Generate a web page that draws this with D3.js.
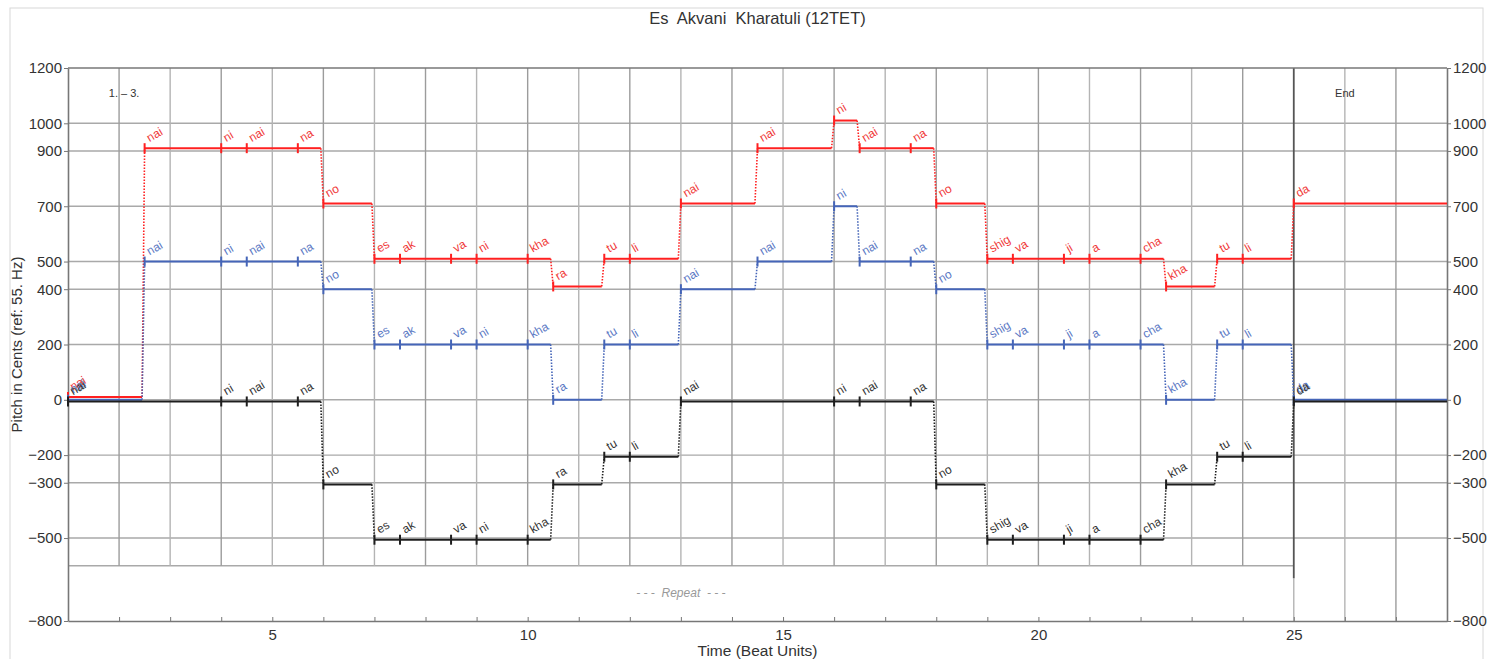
<!DOCTYPE html>
<html><head><meta charset="utf-8">
<script src="https://cdn.jsdelivr.net/npm/d3@7"></script>
<style>body{margin:0;background:#fff;} text{font-family:"Liberation Sans",Arial,Helvetica,sans-serif;}</style>
</head><body><svg id="c" width="1489" height="659"></svg>
<script>
// ---- data ----
const title = "Es  Akvani  Kharatuli (12TET)";
const starts = [1,2.5,4,4.5,5.5,6,7,7.5,8.5,9,10,10.5,11.5,12,13,14.5,16,16.5,17.5,18,19,19.5,20.5,21,22,22.5,23.5,24,25];
const endTime = 28;
const syllables = ["nai","nai","ni","nai","na","no","es","ak","va","ni","kha","ra","tu","li","nai","nai","ni","nai","na","no","shig","va","ji","a","cha","kha","tu","li","da"];
const redPitch   = [0,900,900,900,900,700,500,500,500,500,500,400,500,500,700,900,1000,900,900,700,500,500,500,500,500,400,500,500,700];
const bluePitch  = [0,500,500,500,500,400,200,200,200,200,200,0,200,200,400,500,700,500,500,400,200,200,200,200,200,0,200,200,0];
const blackPitch = [0,null,0,0,0,-300,-500,-500,-500,-500,-500,-300,-200,-200,0,null,0,0,0,-300,-500,-500,-500,-500,-500,-300,-200,-200,0];
const yTicks = [1200,1000,900,700,500,400,200,0,-200,-300,-500,-800];
const xTickLabels = [5,10,15,20,25];
const repeatEnd = 25;

// ---- layout / style ----
const svg = d3.select("#c");
const m = {l:68, r:1447, t:68, b:621};
const x = d3.scaleLinear().domain([1, 28]).range([m.l, m.r]);
const y = d3.scaleLinear().domain([-800, 1200]).range([m.b, m.t]);
const fmt = v => v < 0 ? "\u2212" + Math.abs(v) : String(v);

svg.append("rect").attr("x",10).attr("y",8).attr("width",1473).attr("height",660)
  .attr("fill","#fff").attr("stroke","#d8d8d8").attr("stroke-width",1);

const grid = svg.append("g");
grid.selectAll("line.h").data(yTicks.filter(v => v > -800 && v < 1200)).enter().append("line")
  .attr("x1", x(1)).attr("x2", x(28)).attr("y1", d => y(d)).attr("y2", d => y(d))
  .attr("stroke", "#a9a9a9").attr("stroke-width", 1.4);
grid.append("line").attr("x1", x(1)).attr("x2", x(repeatEnd)).attr("y1", y(-600)).attr("y2", y(-600))
  .attr("stroke", "#a9a9a9").attr("stroke-width", 1.4);
const vbeats = d3.range(2, 28).filter(t => t !== repeatEnd);
grid.selectAll("line.v").data(vbeats).enter().append("line")
  .attr("x1", d => x(d)).attr("x2", d => x(d))
  .attr("y1", y(1200)).attr("y2", d => d < repeatEnd ? y(-600) : y(-800))
  .attr("stroke", (d,i) => i % 2 ? "#b4b4b4" : "#9c9c9c").attr("stroke-width", 1.4);
grid.append("line").attr("x1", x(repeatEnd)).attr("x2", x(repeatEnd)).attr("y1", y(-645)).attr("y2", y(-800))
  .attr("stroke", "#b4b4b4").attr("stroke-width", 1.4);
grid.append("line").attr("x1", x(repeatEnd)).attr("x2", x(repeatEnd)).attr("y1", y(1200)).attr("y2", y(-645))
  .attr("stroke", "#555").attr("stroke-width", 1.8);

const axisStyle = g => {
  g.select(".domain").attr("stroke", "#777").attr("stroke-width", 1.6);
  g.selectAll(".tick line").attr("stroke", "#777");
  g.selectAll(".tick text").attr("fill", "#333").style("font-size", "15px")
   .style("font-family", "'Liberation Sans',Arial,sans-serif");
};
svg.append("g").attr("transform", `translate(${m.l},0)`)
  .call(d3.axisLeft(y).tickValues(yTicks).tickFormat(fmt).tickSize(4).tickSizeOuter(0).tickPadding(2))
  .call(axisStyle);
svg.append("g").attr("transform", `translate(${m.r},0)`)
  .call(d3.axisRight(y).tickValues(yTicks).tickFormat(fmt).tickSize(4).tickSizeOuter(0).tickPadding(2))
  .call(axisStyle);
svg.append("g").attr("transform", `translate(0,${m.b})`)
  .call(d3.axisBottom(x).tickValues(d3.range(2, 28)).tickFormat(d => xTickLabels.includes(d) ? d : "")
        .tickSize(-4).tickSizeOuter(0).tickPadding(8))
  .call(axisStyle);
svg.append("line").attr("x1", m.l).attr("x2", m.r).attr("y1", m.t).attr("y2", m.t)
  .attr("stroke", "#777").attr("stroke-width", 1.6);

// texts
svg.append("text").attr("x", (m.l+m.r)/2).attr("y", 24).attr("text-anchor","middle")
  .attr("fill","#333").style("font-size","16.5px").style("white-space","pre").attr("xml:space","preserve").text(title);
svg.append("text").attr("x", (m.l+m.r)/2).attr("y", 656).attr("text-anchor","middle")
  .attr("fill","#333").style("font-size","15.5px").text("Time (Beat Units)");
svg.append("text").attr("transform", `translate(22,${(m.t+m.b)/2}) rotate(-90)`).attr("text-anchor","middle")
  .attr("fill","#333").style("font-size","15px").text("Pitch in Cents (ref: 55. Hz)");
svg.append("text").attr("x", x(1.8)).attr("y", y(1095)).attr("fill","#333").style("font-size","11px").text("1. \u2013 3.");
svg.append("text").attr("x", x(26)).attr("y", y(1095)).attr("text-anchor","middle").attr("fill","#333").style("font-size","11px").text("End");
svg.append("text").attr("x", x(13)).attr("y", y(-700)+4).attr("text-anchor","middle").attr("fill","#999")
  .style("font-size","12px").style("font-style","italic").style("white-space","pre").attr("xml:space","preserve")
  .text("- - -  Repeat  - - -");

// series
const series = [
  {pitch: redPitch,   line: "#ff2020", label: "#f03a3a", off: 10},
  {pitch: bluePitch,  line: "#4565b8", label: "#5a78c4", off: 0},
  {pitch: blackPitch, line: "#1e1e1e", label: "#333333", off: -6}
];
const gap = 0.05;
series.forEach(s => {
  const idx = starts.map((t,i) => i).filter(i => s.pitch[i] !== null);
  const notes = idx.map((i, k) => ({
    t0: starts[i],
    t1: k < idx.length-1 ? starts[idx[k+1]] : endTime,
    p: s.pitch[i],
    nextP: k < idx.length-1 ? s.pitch[idx[k+1]] : null,
    syl: syllables[i]
  }));
  const g = svg.append("g");
  const py = p => y(p + s.off);
  g.selectAll("line.n").data(notes).enter().append("line")
    .attr("x1", d => x(d.t0)).attr("x2", d => x(d.nextP === null || d.nextP === d.p ? d.t1 : d.t1 - gap))
    .attr("y1", d => py(d.p)).attr("y2", d => py(d.p))
    .attr("stroke", s.line).attr("stroke-width", 2);
  g.selectAll("line.c").data(notes.filter(d => d.nextP !== null && d.nextP !== d.p)).enter().append("line")
    .attr("x1", d => x(d.t1 - gap)).attr("x2", d => x(d.t1))
    .attr("y1", d => py(d.p)).attr("y2", d => py(d.nextP))
    .attr("stroke", s.line).attr("stroke-width", 1.6).attr("stroke-dasharray", "1.5,1.5");
  g.selectAll("line.t").data(notes).enter().append("line")
    .attr("x1", d => x(d.t0)).attr("x2", d => x(d.t0))
    .attr("y1", d => py(d.p) - 5).attr("y2", d => py(d.p) + 5)
    .attr("stroke", s.line).attr("stroke-width", 2);
  g.selectAll("text").data(notes).enter().append("text")
    .attr("transform", d => `translate(${x(d.t0)+5},${py(d.p)-6}) rotate(-30)`)
    .attr("fill", s.label).style("font-size", "12px").text(d => d.syl);
});
</script></body></html>
